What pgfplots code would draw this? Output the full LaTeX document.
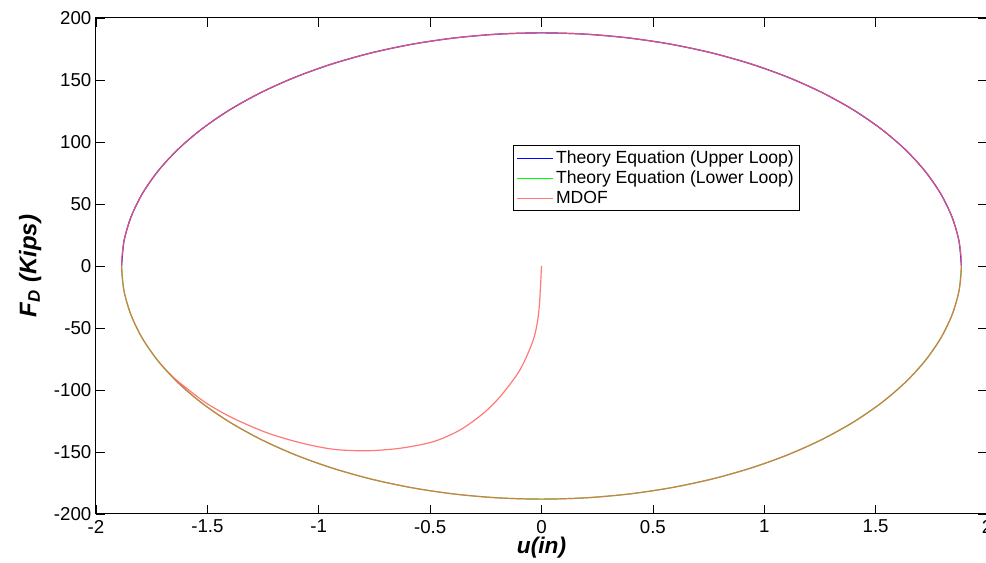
\documentclass[border=0pt]{standalone}
\usepackage{pgfplots}
\pgfplotsset{compat=1.18}
\usepackage{fontspec}
\setmainfont{Liberation Sans}

\definecolor{mdof}{rgb}{1,0.38,0.38}

\begin{document}
\begin{tikzpicture}
  \begin{axis}[
    at={(0,0)}, anchor=south west,
    scale only axis,
    width=668.25pt, height=372pt,
    xmin=-2, xmax=2,
    ymin=-200, ymax=200,
    xtick={-2,-1.5,-1,-0.5,0,0.5,1,1.5,2},
    ytick={-200,-150,-100,-50,0,50,100,150,200},
    tick align=inside,
    major tick length=7pt,
    tick style={black, line width=0.5pt},
    axis line style={black, line width=0.75pt},
    /pgf/number format/assume math mode=true,
    tick label style={font=\fontsize{14}{16}\selectfont},
    xticklabel style={yshift=-1pt},
    xlabel={\textbf{\textit{u(in)}}},
    ylabel={\textbf{\textit{F\textsubscript{D} (Kips)}}},
    xlabel style={font=\fontsize{17}{20}\selectfont,
      at={(axis description cs:0.5,-0.0685)}, anchor=center},
    ylabel style={font=\fontsize{18}{21}\selectfont,
      at={(axis description cs:-0.074,0.5)}, anchor=center},
    legend style={at={(axis description cs:0.468,0.744)}, anchor=north west,
      font=\fontsize{13.2}{15.5}\selectfont, draw=black, line width=0.75pt,
      inner xsep=2pt, inner ysep=2pt, row sep=0pt},
    legend cell align=left,
    legend image code/.code={\draw[#1] (0cm,0cm) -- (0.95cm,0cm);},
    every axis plot/.append style={line width=0.9pt, smooth},
  ]
    % Theory equation, upper loop
    \addplot[blue] coordinates {
      (-1.885,0) (-1.8747,19.65) (-1.8438,39.09) (-1.7927,58.10) (-1.7220,76.47)
      (-1.6325,94.00) (-1.5250,110.50) (-1.4008,125.80) (-1.2613,139.71)
      (-1.1080,152.10) (-0.9425,162.81) (-0.7667,171.75) (-0.5825,178.80)
      (-0.3919,183.89) (-0.1970,186.97) (0,188)
      (0.1970,186.97) (0.3919,183.89) (0.5825,178.80) (0.7667,171.75)
      (0.9425,162.81) (1.1080,152.10) (1.2613,139.71) (1.4008,125.80)
      (1.5250,110.50) (1.6325,94.00) (1.7220,76.47) (1.7927,58.10)
      (1.8438,39.09) (1.8747,19.65) (1.885,0)
    };
    \addlegendentry{Theory Equation (Upper Loop)}

    % Theory equation, lower loop
    \addplot[green] coordinates {
      (-1.885,0) (-1.8747,-19.65) (-1.8438,-39.09) (-1.7927,-58.10) (-1.7220,-76.47)
      (-1.6325,-94.00) (-1.5250,-110.50) (-1.4008,-125.80) (-1.2613,-139.71)
      (-1.1080,-152.10) (-0.9425,-162.81) (-0.7667,-171.75) (-0.5825,-178.80)
      (-0.3919,-183.89) (-0.1970,-186.97) (0,-188)
      (0.1970,-186.97) (0.3919,-183.89) (0.5825,-178.80) (0.7667,-171.75)
      (0.9425,-162.81) (1.1080,-152.10) (1.2613,-139.71) (1.4008,-125.80)
      (1.5250,-110.50) (1.6325,-94.00) (1.7220,-76.47) (1.7927,-58.10)
      (1.8438,-39.09) (1.8747,-19.65) (1.885,0)
    };
    \addlegendentry{Theory Equation (Lower Loop)}

    % MDOF response: transient, then the steady loop
    \addplot[mdof, opacity=0.85] coordinates {
      (0,0) (-0.004,-15) (-0.010,-32.8) (-0.020,-47) (-0.037,-59.7) (-0.074,-75.8)
      (-0.111,-87.9) (-0.186,-105.4) (-0.261,-118.8) (-0.366,-132.3)
      (-0.486,-141.7) (-0.635,-147.0) (-0.785,-149.0) (-0.935,-147.8)
      (-1.084,-142.5) (-1.234,-134.4) (-1.384,-122.8) (-1.503,-110.8)
      (-1.608,-96.5) (-1.660,-88.5)
      (-1.7220,-76.47) (-1.7927,-58.10) (-1.8438,-39.09) (-1.8747,-19.65) (-1.885,0)
      (-1.8747,19.65) (-1.8438,39.09) (-1.7927,58.10) (-1.7220,76.47)
      (-1.6325,94.00) (-1.5250,110.50) (-1.4008,125.80) (-1.2613,139.71)
      (-1.1080,152.10) (-0.9425,162.81) (-0.7667,171.75) (-0.5825,178.80)
      (-0.3919,183.89) (-0.1970,186.97) (0,188)
      (0.1970,186.97) (0.3919,183.89) (0.5825,178.80) (0.7667,171.75)
      (0.9425,162.81) (1.1080,152.10) (1.2613,139.71) (1.4008,125.80)
      (1.5250,110.50) (1.6325,94.00) (1.7220,76.47) (1.7927,58.10)
      (1.8438,39.09) (1.8747,19.65) (1.885,0)
      (1.8747,-19.65) (1.8438,-39.09) (1.7927,-58.10) (1.7220,-76.47)
      (1.6325,-94.00) (1.5250,-110.50) (1.4008,-125.80) (1.2613,-139.71)
      (1.1080,-152.10) (0.9425,-162.81) (0.7667,-171.75) (0.5825,-178.80)
      (0.3919,-183.89) (0.1970,-186.97) (0,-188)
      (-0.1970,-186.97) (-0.3919,-183.89) (-0.5825,-178.80) (-0.7667,-171.75)
      (-0.9425,-162.81) (-1.1080,-152.10) (-1.2613,-139.71) (-1.4008,-125.80)
      (-1.5250,-110.50) (-1.6325,-94.00) (-1.7220,-76.47)
    };
    \addlegendentry{MDOF}
  \end{axis}
  \pgfresetboundingbox
  \path[use as bounding box] (-72pt,-36.75pt) rectangle (667.5pt,385.5pt);
\end{tikzpicture}
\end{document}
